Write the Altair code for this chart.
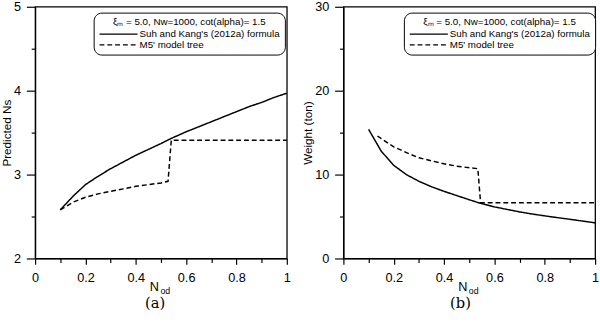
import altair as alt
import pandas as pd

# ---- data ----
series_names = ["Suh and Kang's (2012a) formula", "M5' model tree"]

nod_formula = [0.1, 0.15, 0.2, 0.25, 0.3, 0.35, 0.4, 0.45, 0.5, 0.54, 0.6, 0.65, 0.7, 0.75, 0.8, 0.85, 0.9, 0.95, 1.0]
ns_formula = [2.58, 2.74, 2.88, 2.98, 3.07, 3.15, 3.23, 3.30, 3.37, 3.43, 3.51, 3.57, 3.63, 3.69, 3.75, 3.81, 3.86, 3.92, 3.97]
weight_formula = [15.4, 12.8, 11.1, 10.0, 9.2, 8.55, 8.0, 7.5, 7.0, 6.62, 6.15, 5.85, 5.55, 5.3, 5.08, 4.87, 4.67, 4.46, 4.25]

nod_tree_a = [0.1, 0.15, 0.2, 0.25, 0.3, 0.35, 0.4, 0.45, 0.5, 0.528, 0.541, 1.0]
ns_tree = [2.58, 2.67, 2.73, 2.77, 2.80, 2.83, 2.86, 2.88, 2.90, 2.92, 3.41, 3.41]

nod_tree_b = [0.135, 0.2, 0.26, 0.3, 0.39, 0.45, 0.534, 0.545, 1.0]
weight_tree = [14.6, 13.3, 12.5, 12.0, 11.35, 11.0, 10.7, 6.65, 6.65]

x_ticks = [0, 0.1, 0.2, 0.3, 0.4, 0.5, 0.6, 0.7, 0.8, 0.9, 1.0]
ns_ticks = [2, 2.5, 3, 3.5, 4, 4.5, 5]
weight_ticks = [0, 5, 10, 15, 20, 25, 30]

legend_title = "ξₘ = 5.0, Nw=1000, cot(alpha)= 1.5"
x_title_main = ["N"]
x_title_sub = ["od"]
panel_labels = ["(a)", "(b)"]

FONT = "Liberation Sans"


def make_df(xf, yf, xt, yt):
    rows = [{"x": a, "y": b, "s": series_names[0], "o": i} for i, (a, b) in enumerate(zip(xf, yf))]
    rows += [{"x": a, "y": b, "s": series_names[1], "o": i} for i, (a, b) in enumerate(zip(xt, yt))]
    return pd.DataFrame(rows)


def panel(df, ydomain, yticks, ytitle, major_test, label, legend_x, label_x):
    W, H = 258, 258
    xaxis = alt.Axis(
        values=x_ticks, format="~g", title=None, labelFlush=False,
        labelExpr="round(datum.value*10)%2==0 ? datum.label : ''",
        tickSize={"condition": {"test": "round(datum.value*10)%2==0", "value": 6}, "value": 4},
        labelPadding=8, labelFontSize=13, grid=False,
    )
    yaxis = alt.Axis(
        values=yticks, format="~g", title=ytitle,
        labelExpr=major_test + " ? datum.label : ''",
        tickSize={"condition": {"test": major_test, "value": 9}, "value": 4},
        labelPadding=6, labelFontSize=13, titleFontSize=12, titleFontWeight="normal",
        titlePadding=0, grid=False,
    )
    lines = alt.Chart(df).mark_line(color="black", strokeWidth=1.5).encode(
        x=alt.X("x:Q", scale=alt.Scale(domain=[0, 1], nice=False), axis=xaxis),
        y=alt.Y("y:Q", scale=alt.Scale(domain=ydomain, nice=False), axis=yaxis),
        order="o:Q",
        strokeDash=alt.StrokeDash(
            "s:N",
            scale=alt.Scale(domain=series_names, range=[[1, 0], [5, 3]]),
            legend=alt.Legend(
                title=legend_title, orient="none", legendX=legend_x, legendY=6,
                strokeColor="black", cornerRadius=8, fillColor="white", padding=5,
                titleFontSize=10, titleFontWeight="normal", titleAnchor="middle",
                titleFont=FONT, labelFont=FONT, titleColor="black", labelColor="black",
                labelFontSize=10, symbolType="M-1,0H8.75", symbolSize=64,
                symbolStrokeWidth=1.3, symbolStrokeColor="black", symbolFillColor="black",
                labelOffset=32, rowPadding=1, titlePadding=2,
            ),
        ),
    )
    t_main = alt.Chart(pd.DataFrame({"t": x_title_main})).mark_text(
        font=FONT, fontSize=13, align="right", baseline="middle", color="black"
    ).encode(x=alt.value(127), y=alt.value(287), text="t:N")
    t_sub = alt.Chart(pd.DataFrame({"t": x_title_sub})).mark_text(
        font=FONT, fontSize=9, align="left", baseline="middle", color="black"
    ).encode(x=alt.value(128.5), y=alt.value(291), text="t:N")
    t_panel = alt.Chart(pd.DataFrame({"t": [label]})).mark_text(
        font="DejaVu Serif", fontSize=15, align="center", baseline="middle", color="black"
    ).encode(x=alt.value(label_x), y=alt.value(304), text="t:N")
    return alt.layer(lines, t_main, t_sub, t_panel).properties(width=W, height=H)


left = panel(make_df(nod_formula, ns_formula, nod_tree_a, ns_tree), [2, 5], ns_ticks,
             "Predicted Ns", "datum.value % 1 == 0", panel_labels[0], 60, 123)
right = panel(make_df(nod_formula, weight_formula, nod_tree_b, weight_tree), [0, 30], weight_ticks,
              "Weight (ton)", "datum.value % 10 == 0", panel_labels[1], 62, 120)

chart = alt.hconcat(left, right, spacing=9).resolve_scale(
    strokeDash="independent"
).resolve_legend(strokeDash="independent").properties(
    padding={"left": 0, "top": -4, "right": 0, "bottom": 0}
).configure(font=FONT, background="white").configure_view(
    stroke="black", strokeWidth=1.3
).configure_axis(
    domainColor="black", domainWidth=1.3, tickColor="black", tickWidth=1.2,
    labelColor="black", titleColor="black", labelFont=FONT, titleFont=FONT,
)

chart.save("out.html", embed_options={"renderer": "svg", "actions": False})
